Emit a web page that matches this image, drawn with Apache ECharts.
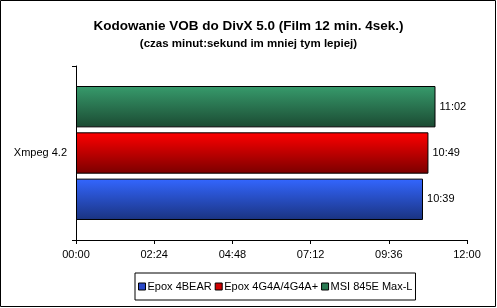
<!DOCTYPE html>
<html><head><meta charset="utf-8">
<script src="https://cdn.jsdelivr.net/npm/echarts@6/dist/echarts.min.js"></script>
<style>html,body{margin:0;padding:0;background:#fff}#c{width:497px;height:308px}</style>
</head><body><div id="c"></div>
<script>
var categories = ['Xmpeg 4.2'];
var seriesNames = ['Epox 4BEAR', 'Epox 4G4A/4G4A+', 'MSI 845E Max-L'];
// times in seconds (mm:ss)
var epox4bear = [639];   // 10:39
var epox4g4a = [649];    // 10:49
var msi845e = [662];     // 11:02
var tickLabels = ['00:00', '02:24', '04:48', '07:12', '09:36', '12:00'];

function fmt(v){var m=Math.floor(v/60),s=Math.round(v%60);return (m<10?'0':'')+m+':'+(s<10?'0':'')+s;}
function grad(a,b){return new echarts.graphic.LinearGradient(0,0,0,1,[{offset:0,color:a},{offset:1,color:b}]);}
var font = 'Arial, "Liberation Sans", sans-serif';
var topCols = ['#3366ff', '#ff0000', '#379b6c'];
var botCols = ['#1a3380', '#7a0000', '#1b4a32'];
var legCols = ['#2a48c8', '#d00000', '#2a7a52'];
var datas = [epox4bear, epox4g4a, msi845e];

var seriesList = datas.map(function(d,i){
  return {
    name:seriesNames[i],type:'bar',data:d,
    barGap:'12%',barCategoryGap:'23%',
    itemStyle:{color:grad(topCols[i],botCols[i]),borderColor:'#000',borderWidth:1},
    label:{show:true,position:'right',distance:4,color:'#000',fontSize:11,fontFamily:font,formatter:function(p){return fmt(p.value);}}
  };
}).reverse(); // first series drawn at the bottom, as in the reference

var chart = echarts.init(document.getElementById('c'), null, {renderer:'canvas'});
chart.setOption({
  animation:false,
  backgroundColor:'#fff',
  textStyle:{fontFamily:font},
  graphic:[{type:'rect',shape:{x:0.5,y:0.5,width:495,height:306},style:{fill:'none',stroke:'#000',lineWidth:1},silent:true}],
  title:[
    {text:'Kodowanie VOB do DivX 5.0 (Film 12 min. 4sek.)',left:'center',top:14,textStyle:{fontFamily:font,fontSize:13.5,fontWeight:'bold',color:'#000'}},
    {text:'(czas minut:sekund im mniej tym lepiej)',left:'center',top:33,textStyle:{fontFamily:font,fontSize:11.5,fontWeight:'bold',color:'#000'}}
  ],
  legend:{
    left:135, top:273, orient:'horizontal',
    padding:[8,3,8,3], itemGap:3, itemWidth:7, itemHeight:7, icon:'rect',
    borderColor:'#000', borderWidth:1, borderRadius:0,
    textStyle:{fontFamily:font,fontSize:11,color:'#000',padding:[0,0,0,-3]},
    data:seriesNames.map(function(n,i){return {name:n,itemStyle:{color:legCols[i],borderColor:'#000',borderWidth:1}};})
  },
  grid:{left:76,right:30,top:66,bottom:68,containLabel:false},
  xAxis:{
    type:'value',min:0,max:720,interval:144,
    axisLine:{show:true,lineStyle:{color:'#000',width:1}},
    axisTick:{show:true,length:4,lineStyle:{color:'#000'}},
    axisLabel:{color:'#000',fontSize:11,fontFamily:font,margin:9,formatter:function(v){return tickLabels[Math.round(v/144)];}},
    splitLine:{show:false}
  },
  yAxis:{
    type:'category',data:categories,
    axisLine:{show:true,lineStyle:{color:'#000',width:1}},
    axisTick:{show:true,length:4,lineStyle:{color:'#000'}},
    axisLabel:{color:'#000',fontSize:11,fontFamily:font,margin:9}
  },
  series:seriesList
});
</script></body></html>
